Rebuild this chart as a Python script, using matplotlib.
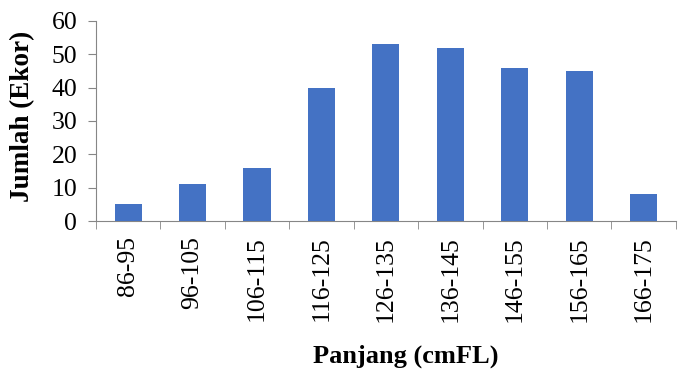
import numpy as np
import matplotlib
matplotlib.use("Agg")
import matplotlib.pyplot as plt

# class intervals and fish counts
categories = ["86-95", "96-105", "106-115", "116-125", "126-135",
              "136-145", "146-155", "156-165", "166-175"]
counts = [5, 11, 16, 40, 53, 52, 46, 45, 8]

plt.rcParams['font.family'] = ['Liberation Serif', 'DejaVu Serif']

fig = plt.figure(figsize=(6.8, 3.74), dpi=100)
ax = fig.add_axes([0.141, 0.409, 0.853, 0.535])

x = np.arange(len(categories))
ax.bar(x, counts, width=0.42, color="#4472C4", zorder=3)

ax.set_xlim(-0.5, len(categories) - 0.5)
ax.set_ylim(0, 60)
ax.set_yticks(range(0, 61, 10))
ax.tick_params(axis='y', labelsize=18.5, length=5.5, color="#868686", pad=8)

# category labels without ticks, separators as minor ticks
ax.set_xticks(x)
ax.set_xticklabels(categories, rotation=90, fontsize=18.5)
ax.tick_params(axis='x', which='major', length=0, pad=11)
ax.set_xticks(np.arange(-0.5, len(categories), 1.0), minor=True)
ax.tick_params(axis='x', which='minor', length=5.5, color="#868686")

for s in ['top', 'right']:
    ax.spines[s].set_visible(False)
for s in ['left', 'bottom']:
    ax.spines[s].set_color("#868686")

ax.set_ylabel("Jumlah (Ekor)", fontsize=19.5, fontweight='bold')
ax.yaxis.set_label_coords(-0.105, 0.525)
fig.text(0.596, 0.048, "Panjang (cmFL)", fontsize=19, fontweight='bold',
         ha='center', va='center')

plt.savefig("out.png", dpi=100)
